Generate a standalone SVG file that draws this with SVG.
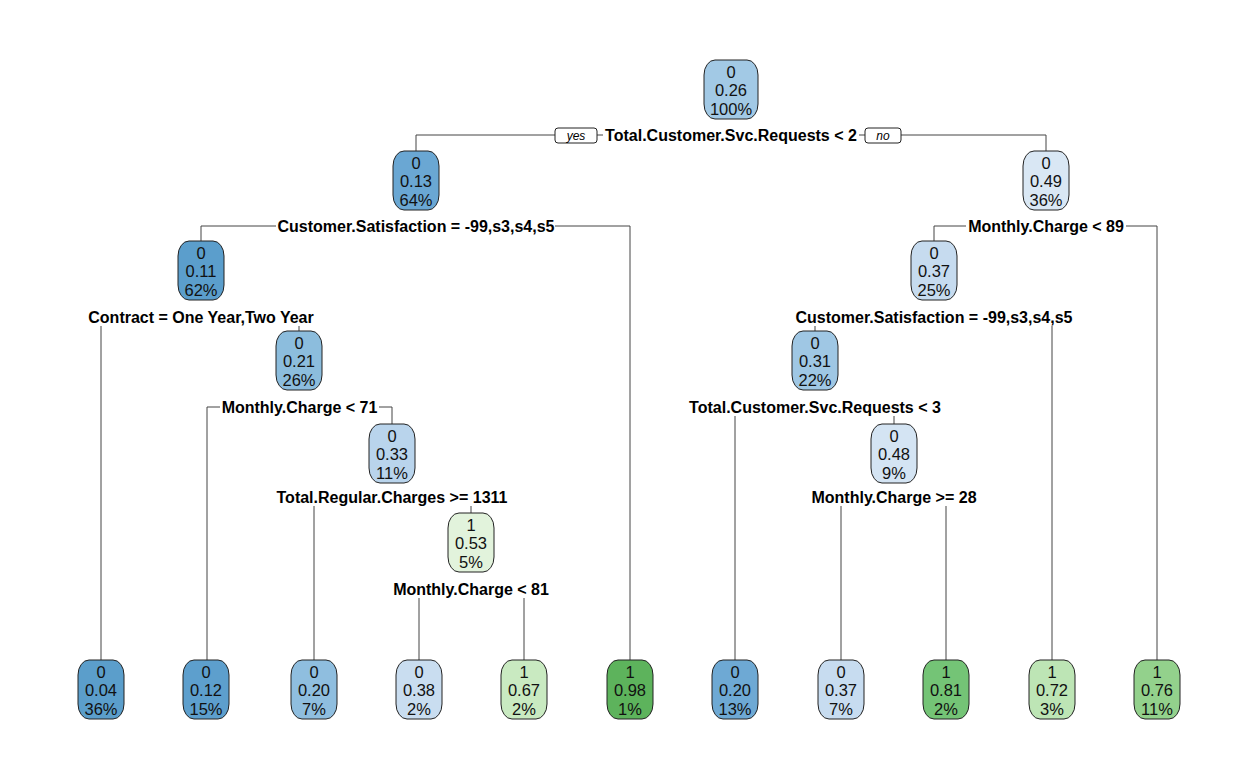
<svg xmlns="http://www.w3.org/2000/svg" width="1259" height="778" viewBox="0 0 1259 778">
  <style>
    .box { stroke: #222; stroke-width: 1; }
    .nt { font-family: "Liberation Sans", Arial, sans-serif; font-size: 16.5px; fill: #111; text-anchor: middle; }
    .split { font-family: "Liberation Sans", Arial, sans-serif; font-size: 16px; font-weight: bold; fill: #000; text-anchor: middle; }
    .yn { font-family: "Liberation Sans", Arial, sans-serif; font-size: 12px; font-style: italic; fill: #000; text-anchor: middle; }
    .ynbox { fill: #fff; stroke: #222; stroke-width: 1; }
    .edge { fill: none; stroke: #444; stroke-width: 1; }
  </style>
  <rect width="1259" height="778" fill="#fff"/>

  <!-- connectors -->
  <g id="connectors">
    <path class="edge" d="M416,151 V135 H555 M597,135 H603 M859,135 H865 M901,135 H1046 V151"/>
    <path class="edge" d="M201,241 V226 H276 M555,226 H630 V660"/>
    <path class="edge" d="M934,241 V226 H966 M1126,226 H1157 V660"/>
    <path class="edge" d="M101,326 V660 M299,326 V331"/>
    <path class="edge" d="M815,326 V331 M1052,326 V660"/>
    <path class="edge" d="M207,660 V407 H220 M379,407 H392 V424"/>
    <path class="edge" d="M735,416 V660 M894,416 V424"/>
    <path class="edge" d="M314,506 V660 M471,506 V513"/>
    <path class="edge" d="M841,506 V660 M946,506 V660"/>
    <path class="edge" d="M419,598 V660 M524,598 V660"/>
    <rect class="ynbox" x="555" y="128" width="42" height="15" rx="3"/>
    <text class="yn" x="576" y="140">yes</text>
    <rect class="ynbox" x="865" y="128" width="36" height="15" rx="3"/>
    <text class="yn" x="883" y="140">no</text>
  </g>

  <!-- split labels -->
  <g id="splits">
    <text class="split" x="731" y="141">Total.Customer.Svc.Requests &lt; 2</text>
    <text class="split" x="416" y="232">Customer.Satisfaction = -99,s3,s4,s5</text>
    <text class="split" x="1046" y="232">Monthly.Charge &lt; 89</text>
    <text class="split" x="201" y="323">Contract = One Year,Two Year</text>
    <text class="split" x="934" y="323">Customer.Satisfaction = -99,s3,s4,s5</text>
    <text class="split" x="299.5" y="413">Monthly.Charge &lt; 71</text>
    <text class="split" x="815" y="413">Total.Customer.Svc.Requests &lt; 3</text>
    <text class="split" x="392" y="503">Total.Regular.Charges &gt;= 1311</text>
    <text class="split" x="894" y="503">Monthly.Charge &gt;= 28</text>
    <text class="split" x="471" y="595">Monthly.Charge &lt; 81</text>
  </g>

  <!-- internal nodes -->
  <g id="n1"><rect class="box" x="704" y="60" width="54" height="59" rx="11" ry="15" fill="#a2c9e5"/>
    <text class="nt" x="731" y="78">0</text><text class="nt" x="731" y="96">0.26</text><text class="nt" x="731" y="114.5">100%</text></g>
  <g id="n2"><rect class="box" x="393" y="151" width="46" height="59" rx="11" ry="15" fill="#6aa7d3"/>
    <text class="nt" x="416" y="169">0</text><text class="nt" x="416" y="187">0.13</text><text class="nt" x="416" y="205.5">64%</text></g>
  <g id="n3"><rect class="box" x="1023" y="151" width="46" height="59" rx="11" ry="15" fill="#d9e7f4"/>
    <text class="nt" x="1046" y="169">0</text><text class="nt" x="1046" y="187">0.49</text><text class="nt" x="1046" y="205.5">36%</text></g>
  <g id="n4"><rect class="box" x="178" y="241" width="46" height="59" rx="11" ry="15" fill="#5b9ecc"/>
    <text class="nt" x="201" y="259">0</text><text class="nt" x="201" y="277">0.11</text><text class="nt" x="201" y="295.5">62%</text></g>
  <g id="n6"><rect class="box" x="911" y="241" width="46" height="59" rx="11" ry="15" fill="#c6dbef"/>
    <text class="nt" x="934" y="259">0</text><text class="nt" x="934" y="277">0.37</text><text class="nt" x="934" y="295.5">25%</text></g>
  <g id="n9"><rect class="box" x="276" y="331" width="46" height="59" rx="11" ry="15" fill="#8cbddd"/>
    <text class="nt" x="299" y="349">0</text><text class="nt" x="299" y="367">0.21</text><text class="nt" x="299" y="385.5">26%</text></g>
  <g id="n12"><rect class="box" x="792" y="331" width="46" height="59" rx="11" ry="15" fill="#9fc7e4"/>
    <text class="nt" x="815" y="349">0</text><text class="nt" x="815" y="367">0.31</text><text class="nt" x="815" y="385.5">22%</text></g>
  <g id="n19"><rect class="box" x="369" y="424" width="46" height="59" rx="11" ry="15" fill="#b9d4ec"/>
    <text class="nt" x="392" y="442">0</text><text class="nt" x="392" y="460">0.33</text><text class="nt" x="392" y="478.5">11%</text></g>
  <g id="n25"><rect class="box" x="871" y="424" width="46" height="59" rx="11" ry="15" fill="#d4e4f3"/>
    <text class="nt" x="894" y="442">0</text><text class="nt" x="894" y="460">0.48</text><text class="nt" x="894" y="478.5">9%</text></g>
  <g id="n39"><rect class="box" x="448" y="513" width="46" height="59" rx="11" ry="15" fill="#e2f3dc"/>
    <text class="nt" x="471" y="531">1</text><text class="nt" x="471" y="549">0.53</text><text class="nt" x="471" y="567.5">5%</text></g>

  <!-- leaves -->
  <g id="leaf8"><rect class="box" x="78" y="660" width="46" height="59" rx="11" ry="15" fill="#5b9ecb"/>
    <text class="nt" x="101" y="678">0</text><text class="nt" x="101" y="696">0.04</text><text class="nt" x="101" y="714.5">36%</text></g>
  <g id="leaf18"><rect class="box" x="183" y="660" width="46" height="59" rx="11" ry="15" fill="#5d9fcd"/>
    <text class="nt" x="206" y="678">0</text><text class="nt" x="206" y="696">0.12</text><text class="nt" x="206" y="714.5">15%</text></g>
  <g id="leaf38"><rect class="box" x="291" y="660" width="46" height="59" rx="11" ry="15" fill="#8fbedf"/>
    <text class="nt" x="314" y="678">0</text><text class="nt" x="314" y="696">0.20</text><text class="nt" x="314" y="714.5">7%</text></g>
  <g id="leaf78"><rect class="box" x="396" y="660" width="46" height="59" rx="11" ry="15" fill="#c9ddf0"/>
    <text class="nt" x="419" y="678">0</text><text class="nt" x="419" y="696">0.38</text><text class="nt" x="419" y="714.5">2%</text></g>
  <g id="leaf79"><rect class="box" x="501" y="660" width="46" height="59" rx="11" ry="15" fill="#c9eac1"/>
    <text class="nt" x="524" y="678">1</text><text class="nt" x="524" y="696">0.67</text><text class="nt" x="524" y="714.5">2%</text></g>
  <g id="leaf5"><rect class="box" x="607" y="660" width="46" height="59" rx="11" ry="15" fill="#5db35c"/>
    <text class="nt" x="630" y="678">1</text><text class="nt" x="630" y="696">0.98</text><text class="nt" x="630" y="714.5">1%</text></g>
  <g id="leaf24"><rect class="box" x="712" y="660" width="46" height="59" rx="11" ry="15" fill="#6ea9d4"/>
    <text class="nt" x="735" y="678">0</text><text class="nt" x="735" y="696">0.20</text><text class="nt" x="735" y="714.5">13%</text></g>
  <g id="leaf50"><rect class="box" x="818" y="660" width="46" height="59" rx="11" ry="15" fill="#c7dcf0"/>
    <text class="nt" x="841" y="678">0</text><text class="nt" x="841" y="696">0.37</text><text class="nt" x="841" y="714.5">7%</text></g>
  <g id="leaf51"><rect class="box" x="923" y="660" width="46" height="59" rx="11" ry="15" fill="#74c476"/>
    <text class="nt" x="946" y="678">1</text><text class="nt" x="946" y="696">0.81</text><text class="nt" x="946" y="714.5">2%</text></g>
  <g id="leaf13"><rect class="box" x="1029" y="660" width="46" height="59" rx="11" ry="15" fill="#bde5b5"/>
    <text class="nt" x="1052" y="678">1</text><text class="nt" x="1052" y="696">0.72</text><text class="nt" x="1052" y="714.5">3%</text></g>
  <g id="leaf7"><rect class="box" x="1134" y="660" width="46" height="59" rx="11" ry="15" fill="#93d18c"/>
    <text class="nt" x="1157" y="678">1</text><text class="nt" x="1157" y="696">0.76</text><text class="nt" x="1157" y="714.5">11%</text></g>
</svg>
